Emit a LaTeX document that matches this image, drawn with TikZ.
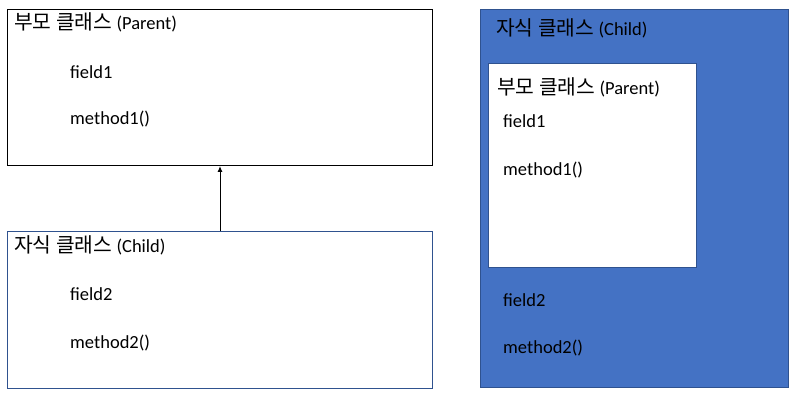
\documentclass[tikz,border=0pt]{standalone}
\usepackage{fontspec}
\setmainfont{Carlito}
\newfontfamily\kr[Scale=1.1]{Noto Sans CJK KR}
\usetikzlibrary{arrows.meta}
\definecolor{boxblue}{HTML}{4472C4}
\definecolor{edgeblue}{HTML}{2F528F}
\tikzset{
  classbox/.style={draw, line width=1pt, anchor=north west, inner sep=0pt},
  member/.style={anchor=base west, inner sep=0pt, font=\fontsize{18.5}{22}\selectfont},
}
\begin{document}
\begin{tikzpicture}[x=1pt, y=-1pt]
  \useasboundingbox (0,0) rectangle (805,403);

  % Left: parent class box
  \node[classbox, minimum width=425pt, minimum height=156pt] (parent) at (7,9) {};
  \node[member] (ptitle) at (14,30) {{\kr 부모 클래스} (Parent)};
  \node[member] (pfield) at (70,79) {field1};
  \node[member] (pmethod) at (70,125) {method1()};

  % Left: child class box
  \node[classbox, draw=edgeblue, minimum width=425pt, minimum height=157pt] (child) at (7,231) {};
  \node[member] (ctitle) at (14,253) {{\kr 자식 클래스} (Child)};
  \node[member] (cfield) at (70,300) {field2};
  \node[member] (cmethod) at (70,348) {method2()};

  % Inheritance arrow
  \draw[-{Latex[length=6pt,width=5pt]}, line width=1pt] (child.north) -- (parent.south);

  % Right: child object holding the parent part
  \node[classbox, draw=edgeblue, fill=boxblue, minimum width=308pt, minimum height=378pt] (obj) at (480,9) {};
  \node[member] (otitle) at (496,36) {{\kr 자식 클래스} (Child)};
  \node[classbox, draw=edgeblue, fill=white, minimum width=208pt, minimum height=204pt] (inner) at (488,63) {};
  \node[member] (ititle) at (497,95) {{\kr 부모 클래스} (Parent)};
  \node[member] (ifield) at (503,128) {field1};
  \node[member] (imethod) at (503,176) {method1()};
  \node[member] (ofield) at (503,306) {field2};
  \node[member] (omethod) at (503,353) {method2()};

\end{tikzpicture}
\end{document}
